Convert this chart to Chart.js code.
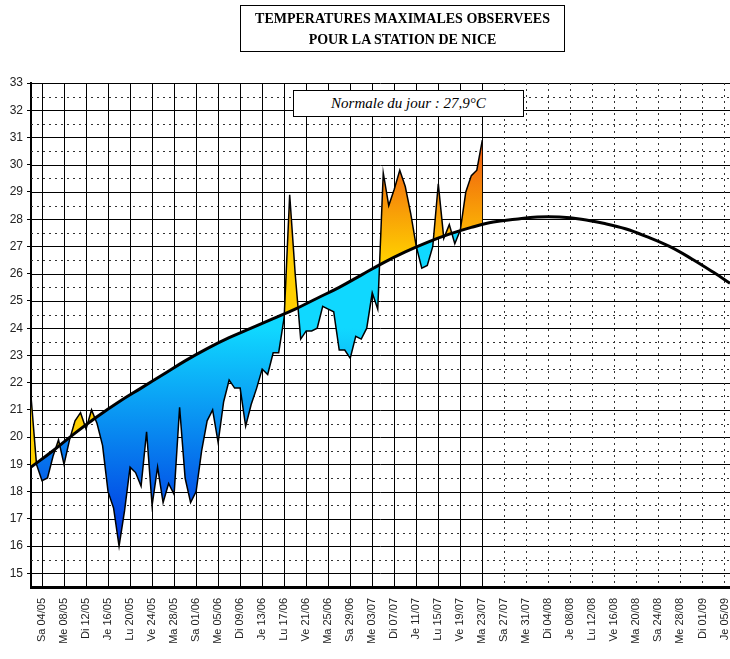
<!DOCTYPE html>
<html>
<head>
<meta charset="utf-8">
<script src="https://cdn.jsdelivr.net/npm/chart.js@4"></script>
<style>
  body { margin: 0; background: #fff; }
  #wrap { position: relative; width: 730px; height: 659px; }
  #title { position: absolute; left: 240px; top: 5px; width: 325px; height: 47px; border: 1px solid #000;
    font: bold 14px "Liberation Serif", serif; text-align: center; line-height: 21px; padding-top: 2px; box-sizing: border-box; }
  #normale { position: absolute; left: 293px; top: 90px; width: 231px; height: 27px; border: 1px solid #000; background: #fff;
    font: italic 15px "Liberation Serif", serif; text-align: center; line-height: 25px; box-sizing: border-box; z-index: 2; }
</style>
</head>
<body>
<div id="wrap">
  <canvas id="myChart" width="730" height="659"></canvas>
  <div id="title">TEMPERATURES MAXIMALES OBSERVEES<br>POUR LA STATION DE NICE</div>
  <div id="normale">Normale du jour : 27,9°C</div>
</div>
<script>
// day index 0 = 02/05
const tickDays = [2,6,10,14,18,22,26,30,34,38,42,46,50,54,58,62,66,70,74,78,82,86,90,94,98,102,106,110,114,118,122,126];
const tickLabels = ['Sa 04/05','Me 08/05','Di 12/05','Je 16/05','Lu 20/05','Ve 24/05','Ma 28/05','Sa 01/06','Me 05/06','Di 09/06',
  'Je 13/06','Lu 17/06','Ve 21/06','Ma 25/06','Sa 29/06','Me 03/07','Di 07/07','Je 11/07','Lu 15/07','Ve 19/07','Ma 23/07',
  'Sa 27/07','Me 31/07','Di 04/08','Je 08/08','Lu 12/08','Ve 16/08','Ma 20/08','Sa 24/08','Me 28/08','Di 01/09','Je 05/09'];
const tmax = [21.5,19.0,18.4,18.5,19.3,19.9,19.0,19.9,20.6,20.9,
  20.3,21.0,20.5,19.7,18.0,17.4,16.0,17.3,18.9,18.7,
  18.2,20.2,17.5,18.9,17.6,18.3,17.9,21.1,18.5,17.6,
  18.0,19.5,20.6,21.0,19.8,21.3,22.1,21.8,21.8,20.4,
  21.2,21.8,22.5,22.3,23.1,23.1,24.4,28.9,26.0,23.6,
  23.9,23.9,24.0,24.8,24.7,24.6,23.2,23.2,22.9,23.7,
  23.6,24.0,25.3,24.7,29.7,28.5,29.1,29.8,29.2,28.2,
  27.0,26.2,26.3,27.0,29.3,27.3,27.8,27.1,27.6,29.0,
  29.6,29.8,30.9];
const normalDays = [0,4,8,12,16,20,24,28,32,36,40,44,48,52,56,60,64,68,72,76,80,84,88,92,96,100,104,108,112,116,120,124,127];
const normalVals = [18.9,19.5,20.15,20.75,21.3,21.8,22.3,22.8,23.25,23.65,24.0,24.35,24.7,25.1,25.5,25.95,26.4,26.8,27.15,27.45,27.7,27.9,28.0,28.08,28.08,28.0,27.85,27.65,27.35,27.0,26.55,26.05,25.65];
const lastObsDay = 82;

const fillGrad = (ctx, above) => {
  const chart = ctx.chart;
  if (!chart.chartArea) return above ? '#ffc800' : '#00c8ff';
  const y = chart.scales.y;
  if (above) {
    const g = chart.ctx.createLinearGradient(0, y.getPixelForValue(26.5), 0, y.getPixelForValue(30.5));
    g.addColorStop(0, '#ffd000'); g.addColorStop(1, '#f06010');
    return g;
  }
  const g = chart.ctx.createLinearGradient(0, y.getPixelForValue(24), 0, y.getPixelForValue(16));
  g.addColorStop(0, '#10d8ff'); g.addColorStop(1, '#0030e0');
  return g;
};

const gridPlugin = {
  id: 'grille',
  beforeDatasetsDraw(chart) {
    const {ctx, chartArea: a, scales: {x, y}} = chart;
    ctx.save();
    ctx.lineWidth = 1;
    for (let v = 15; v <= 33; v += 0.5) {
      const py = Math.round(y.getPixelForValue(v)) + 0.5;
      ctx.setLineDash(v % 1 === 0 ? [] : [2, 4]);
      ctx.strokeStyle = v % 1 === 0 ? '#000' : '#333';
      ctx.beginPath(); ctx.moveTo(a.left, py); ctx.lineTo(a.right, py); ctx.stroke();
    }
    tickDays.forEach(d => {
      const px = Math.round(x.getPixelForValue(d)) + 0.5;
      ctx.setLineDash(d <= lastObsDay ? [] : [2, 4]);
      ctx.strokeStyle = d <= lastObsDay ? '#000' : '#333';
      ctx.beginPath(); ctx.moveTo(px, a.top); ctx.lineTo(px, a.bottom); ctx.stroke();
    });
    ctx.restore();
  }
};

new Chart('myChart', {
  type: 'line',
  data: {
    datasets: [{
      label: 'Tmax',
      data: tmax.map((v, i) => ({x: i, y: v})),
      borderColor: '#000',
      borderWidth: 1.5,
      pointRadius: 0,
      tension: 0,
      fill: {target: 1, above: ctx => fillGrad(ctx, true), below: ctx => fillGrad(ctx, false)},
      order: 2
    }, {
      label: 'Normale',
      data: normalDays.map((d, i) => ({x: d, y: normalVals[i]})),
      borderColor: '#000',
      borderWidth: 3,
      pointRadius: 0,
      tension: 0.4,
      fill: false,
      order: 1
    }]
  },
  options: {
    responsive: false,
    animation: false,
    layout: {padding: {top: 83, right: 0, left: 0, bottom: 0}},
    plugins: {legend: {display: false}, tooltip: {enabled: false}},
    scales: {
      x: {
        type: 'linear', min: 0, max: 127,
        afterBuildTicks: s => { s.ticks = tickDays.map(v => ({value: v})); },
        afterFit: s => { s.height = 72; s.paddingLeft = 0; s.paddingRight = 0; },
        ticks: {
          minRotation: 90, maxRotation: 90, autoSkip: false, color: '#222',
          font: {family: 'Liberation Sans', size: 11},
          callback: (v) => tickLabels[tickDays.indexOf(v)]
        },
        grid: {display: false},
        border: {color: '#000', width: 3}
      },
      y: {
        min: 14.5, max: 33,
        afterBuildTicks: s => { s.ticks = []; for (let v = 15; v <= 33; v++) s.ticks.push({value: v}); },
        afterFit: s => { s.width = 31; s.paddingTop = 0; s.paddingBottom = 0; },
        ticks: {color: '#222', font: {family: 'Liberation Sans', size: 12}, padding: 4},
        grid: {display: true, drawOnChartArea: false, drawTicks: true, tickLength: 4, color: '#000'},
        border: {color: '#000', width: 2}
      }
    }
  },
  plugins: [gridPlugin]
});
</script>
</body>
</html>
